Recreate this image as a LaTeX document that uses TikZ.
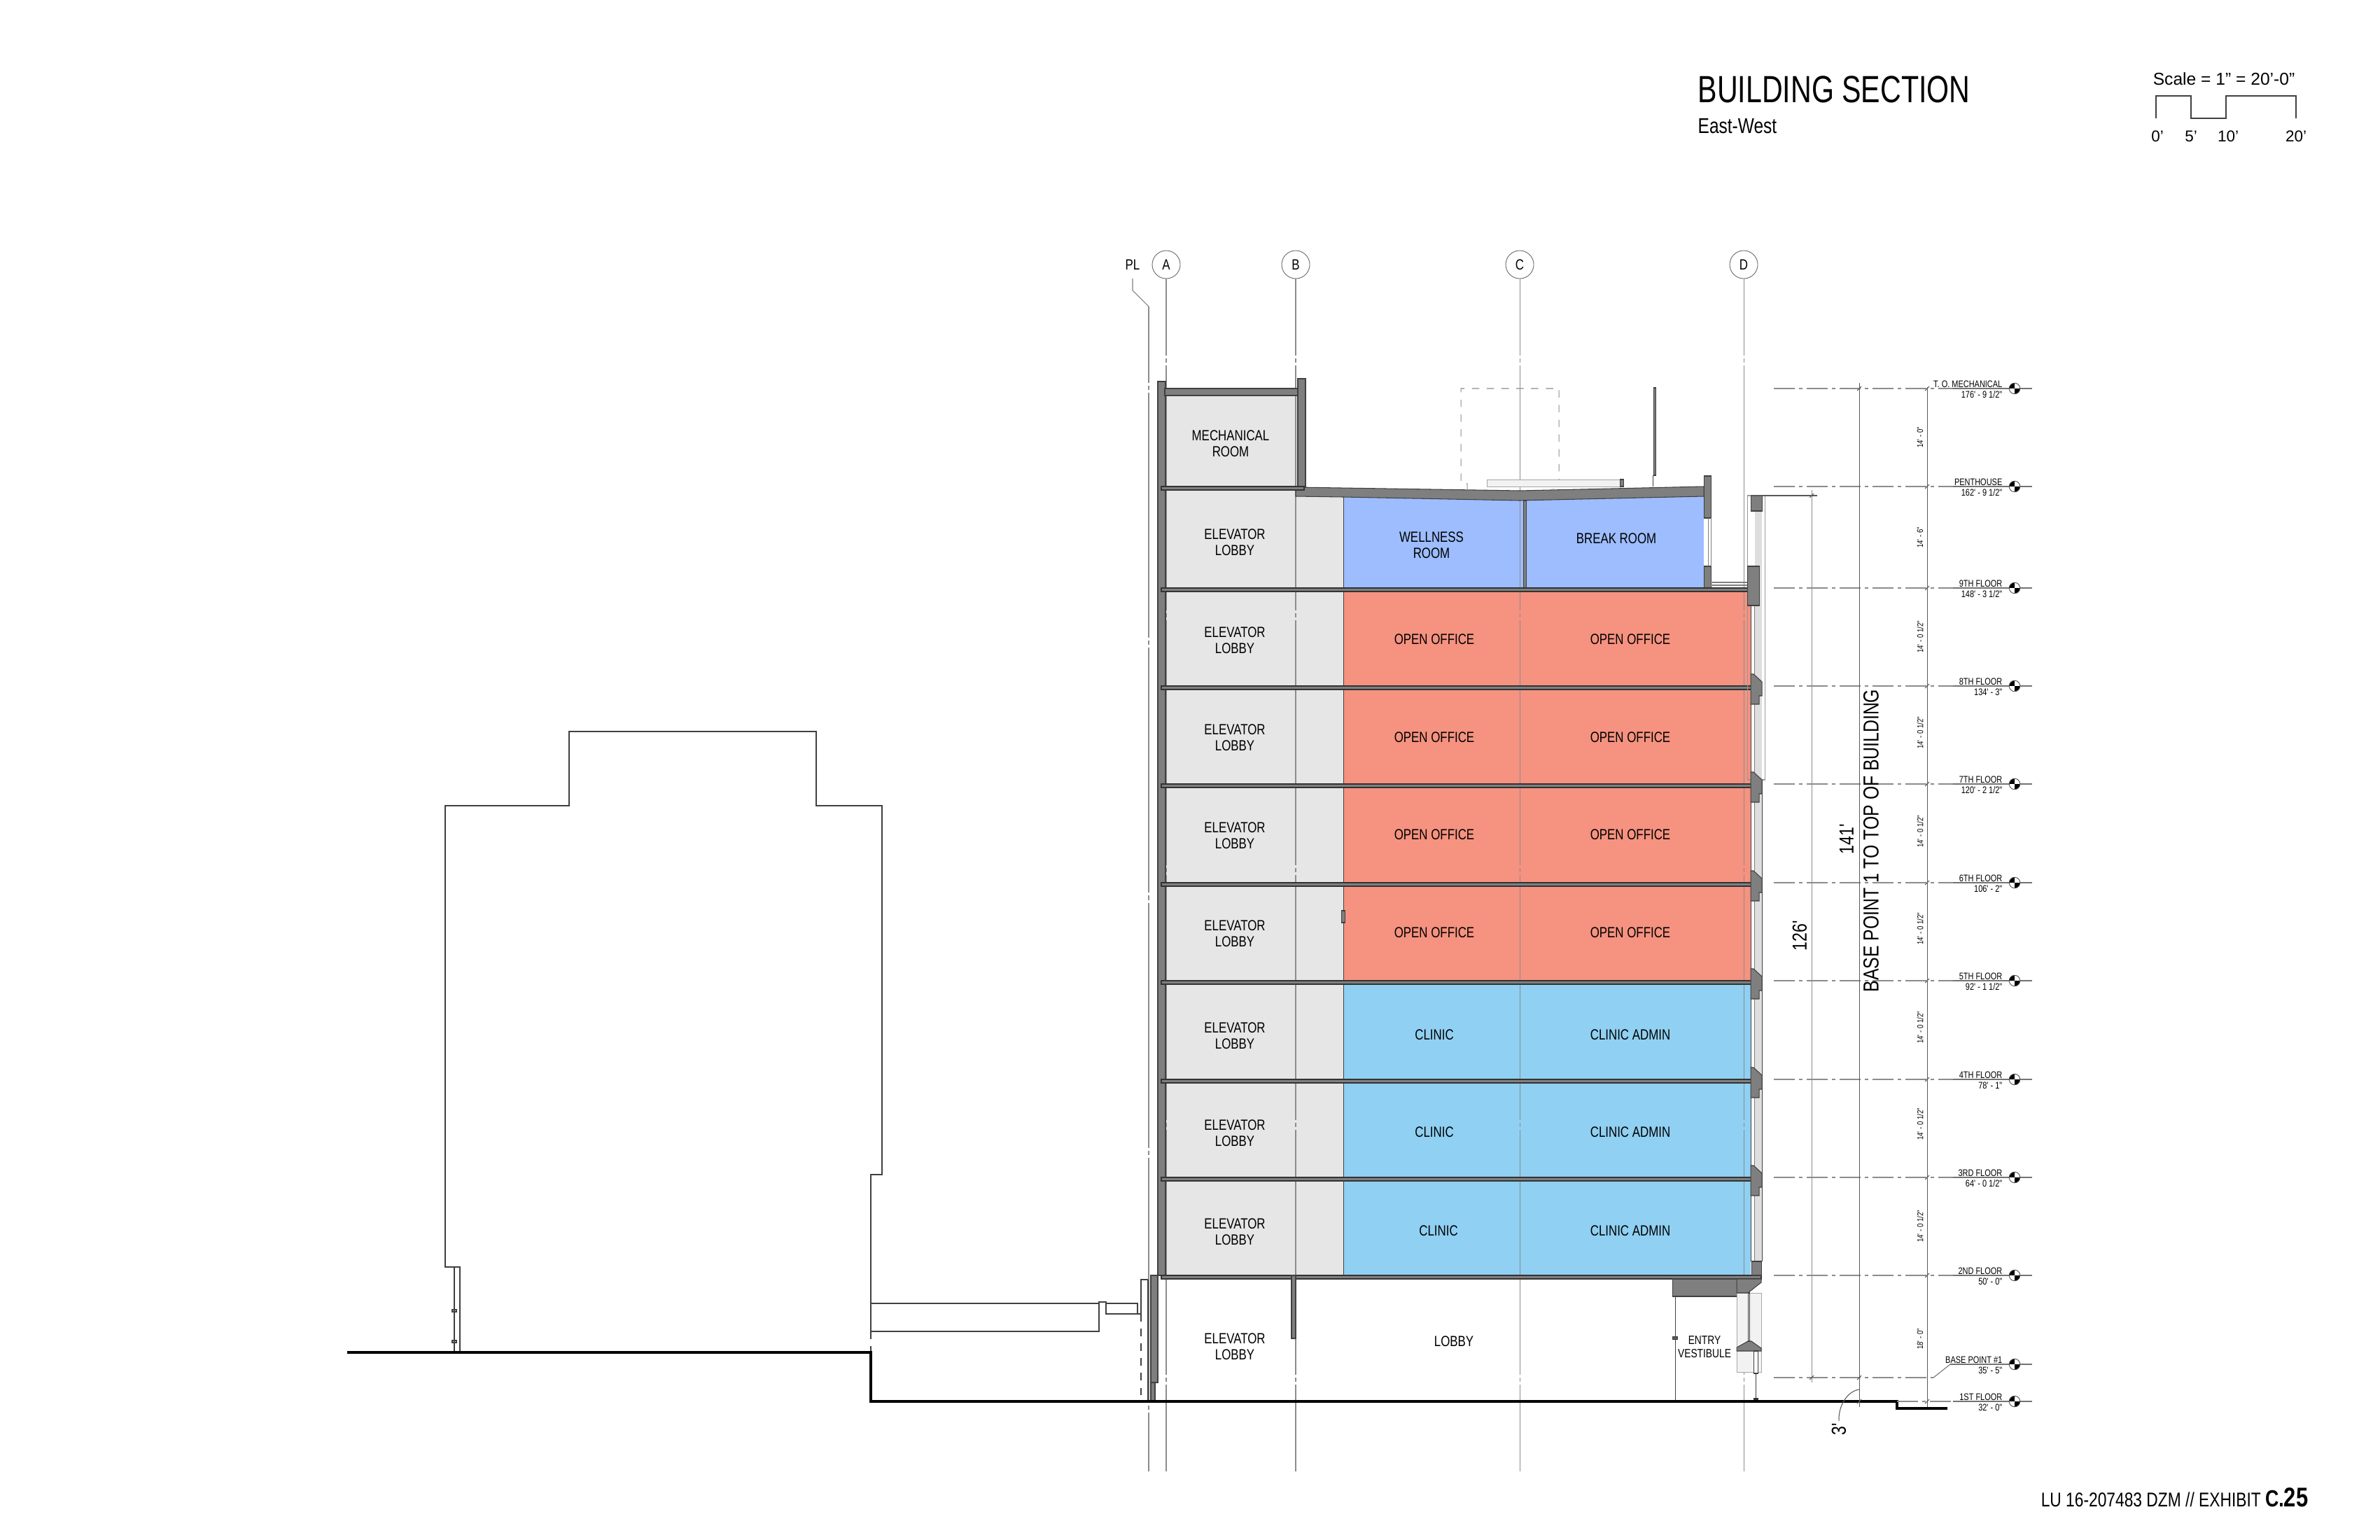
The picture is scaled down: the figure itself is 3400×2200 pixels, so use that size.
\documentclass[tikz,border=0pt]{standalone}
\usepackage{xcolor}
\usepackage{fontspec}
\usepackage{tikz}
\setmainfont{Liberation Sans}
\newfontfamily\narrowfont[FakeStretch=0.8]{Liberation Sans}
\newfontfamily\titlefont[FakeStretch=0.76]{Liberation Sans}
\definecolor{lobbygray}{HTML}{E6E6E6}
\definecolor{officered}{HTML}{F59280}
\definecolor{clinicblue}{HTML}{90D0F2}
\definecolor{wellblue}{HTML}{9DBDFE}
\definecolor{wallgray}{HTML}{7F7F7F}

\begin{document}
\begin{tikzpicture}[x=0.01cm,y=-0.01cm,
	room label/.style={font=\narrowfont\fontsize{6}{6.6}\selectfont, align=center, inner sep=0pt},
	level label/.style={font=\narrowfont\fontsize{3.9}{4.3}\selectfont, align=right, anchor=east, inner sep=0pt},
	dim label/.style={font=\narrowfont\fontsize{3.4}{3.8}\selectfont, rotate=90, inner sep=0pt},
	big dim/.style={font=\narrowfont\fontsize{8.2}{9}\selectfont, rotate=90, inner sep=0pt},
	grid node/.style={circle, draw=black!60, line width=0.25pt, fill=white, minimum size=0.4cm, inner sep=0pt, font=\narrowfont\fontsize{6}{7}\selectfont},
	grid line/.style={draw=black!45, line width=0.3pt, dash pattern=on 3.5cm off 0.04cm on 0.06cm off 0.04cm, dash phase=2.41cm},
	level dash/.style={draw=black!45, line width=0.3pt, dash pattern=on 0.3cm off 0.06cm on 0.05cm off 0.06cm},
	level line/.style={draw=black!55, line width=0.3pt},
	level head/.style={circle, draw=black!70, line width=0.25pt, fill=white, minimum size=0.155cm, inner sep=0pt,
		path picture={
			\fill[black] (path picture bounding box.center) rectangle (path picture bounding box.north west);
			\fill[black] (path picture bounding box.center) rectangle (path picture bounding box.south east);}},
	wall/.style={draw=black!75, line width=0.3pt, fill=wallgray},
	slab/.style={draw=black!80, line width=0.45pt, fill=wallgray},
	thin line/.style={draw=black!75, line width=0.3pt},
	dim line/.style={draw=black!65, line width=0.3pt},
	hatch/.style={fill=black!13},
	stone/.style={draw=black!35, line width=0.2pt, fill=black!5},
	dim tick/.pic={\draw[dim line] (-3,3) -- (3,-3);},
	slab edge/.pic={\draw[wall] (0,-17) -- (4,-17) -- (16,-6) -- (16,14) -- (12,14) -- (12,26) -- (0,26) -- cycle;}]
	\useasboundingbox (0,-2) rectangle (3400,2198);
	
	% Room fills
	\fill[lobbygray] (1665,563) rectangle (1854,693);
	\fill[lobbygray] (1665,698) rectangle (1919,1820);
	\fill[wellblue] (1919,700) rectangle (2434,838);
	\fill[officered] (1919,843) rectangle (2501,1399);
	\fill[clinicblue] (1919,1404) rectangle (2501,1820);
	\draw[thin line] (1919,707) -- (1919,1820);
	\draw[wall] (1916,1299) rectangle (1921,1316);
	
	% Grid
	\node[grid node] (A) at (1666,376) {A};
	\node[grid node] (B) at (1851,376) {B};
	\node[grid node] (C) at (2171,376) {C};
	\node[grid node] (D) at (2491,376) {D};
	\coordinate (Aend) at (1666,2100);
	\coordinate (Bend) at (1851,2100);
	\coordinate (Cend) at (2171,2100);
	\coordinate (Dend) at (2491,2100);
	\path (A) edge[grid line] (Aend)
	(B) edge[grid line] (Bend)
	(C) edge[grid line] (Cend)
	(D) edge[grid line] (Dend);
	\node[font=\narrowfont\fontsize{6}{7}\selectfont, inner sep=0pt] (PL) at (1618,376) {PL};
	\draw[thin line, draw=black!50] (1618,396) -- (1618,413) -- (1641,436);
	\draw[grid line] (1641,436) -- (1641,2100);
	
	% Walls and slabs
	\draw[wall] (1654,543) rectangle (1665,1820);
	\draw[wall] (1664,553) rectangle (1854,563);
	\draw[wall] (1854,539) rectangle (1865,696);
	\draw[wall] (1851,694) -- (2171,699) -- (2434,693) -- (2434,707) -- (2171,713) -- (1919,708) -- (1851,707) -- cycle;
	\draw[wall] (2176,713) rectangle (2180,838);
	\draw[wall] (2434,678) rectangle (2444,738);
	\draw[wall] (2434,807) rectangle (2444,838);
	\draw[thin line, draw=black!50] (2440,738) -- (2440,807);
	\draw[thin line, draw=black!50] (2444,738) -- (2444,807);
	\draw[thin line, draw=black!50] (2444,830) -- (2496,830);
	\draw[thin line, draw=black!50] (2444,834) -- (2496,834);
	\draw[slab] (1659,693) rectangle (1863,698);
	\draw[slab] (1659,838) rectangle (2506,843);
	\draw[slab] (1659,978) rectangle (2506,983);
	\draw[slab] (1659,1118) rectangle (2506,1123);
	\draw[slab] (1659,1259) rectangle (2506,1264);
	\draw[slab] (1659,1399) rectangle (2506,1404);
	\draw[slab] (1659,1540) rectangle (2506,1545);
	\draw[slab] (1659,1680) rectangle (2506,1685);
	\draw[slab] (1659,1820) rectangle (2516,1825);
	
	% Facade
	\draw[dim line, draw=black!40] (2496,706) rectangle (2521,1112);
	\fill[hatch] (2507,728) rectangle (2517,1800);
	\fill[white] (2502,863) rectangle (2507,1800);
	\draw[thin line] (2501,863) -- (2501,1800);
	\draw[thin line, draw=black!50] (2506,863) -- (2506,1800);
	\draw[thin line] (2517,1112) -- (2517,1800);
	\draw[wall] (2501,706) rectangle (2517,728);
	\draw[wall] (2496,807) rectangle (2513,863);
	\pic at (2501,978) {slab edge};
	\pic at (2501,1118) {slab edge};
	\pic at (2501,1259) {slab edge};
	\pic at (2501,1399) {slab edge};
	\pic at (2501,1540) {slab edge};
	\pic at (2501,1680) {slab edge};
	\draw[wall] (2502,1800) rectangle (2516,1820);
	
	% Ground floor
	\draw[wall] (2389,1825) rectangle (2481,1850);
	\draw[stone] (2481,1845) rectangle (2516,1958);
	\draw[wall] (2481,1825) -- (2516,1825) -- (2516,1830) -- (2497,1845) -- (2481,1845) -- cycle;
	\draw[wall] (2481,1923) -- (2497,1914) -- (2502,1914) -- (2516,1924) -- (2516,1928) -- (2481,1928) -- cycle;
	\draw[thin line] (2497,1845) rectangle (2499,1914);
	\draw[thin line, fill=white] (2505,1928) rectangle (2511,1960);
	\draw[thin line] (2508,1960) -- (2508,1995);
	\fill[black!80] (2505,1995) rectangle (2512,1999);
	\draw[thin line] (2393,1850) -- (2393,2000);
	\draw[wall] (2389,1908) rectangle (2396,1911);
	\draw[wall] (1644,1820) rectangle (1654,1973);
	\draw[wall] (1644,1973) rectangle (1650,2000);
	\draw[wall] (1845,1820) rectangle (1851,1910);
	
	% Rooftop
	\draw[dim line, dashed, draw=black!45] (2096,698) -- (2096,689) -- (2087,688) -- (2087,553) -- (2227,553) -- (2227,688) -- (2219,689) -- (2219,698);
	\draw[stone] (2124,683) rectangle (2319,693);
	\draw[wall] (2314,683) rectangle (2319,693);
	\draw[wall] (2362,552) rectangle (2365,677);
	\draw[thin line] (2361,677) -- (2361,693);
	
	% Neighbour
	\draw[thin line] (657,1930) -- (657,1808) -- (636,1808) -- (636,1149) -- (813,1149) -- (813,1043) -- (1166,1043) -- (1166,1149) -- (1260,1149) -- (1260,1676) -- (1244,1676) -- (1244,1900);
	\draw[thin line, dashed] (1244,1900) -- (1244,1930);
	\draw[thin line] (649,1808) -- (649,1930);
	\draw[thin line] (646,1869) rectangle (652,1872);
	\draw[thin line] (646,1913) rectangle (652,1916);
	\draw[thin line] (1244,1860) -- (1570,1860);
	\draw[thin line] (1244,1900) -- (1570,1900) -- (1570,1858) -- (1580,1858) -- (1580,1875) -- (1630,1875);
	\draw[thin line] (1580,1860) -- (1625,1860) -- (1625,1875);
	\draw[thin line] (1640,1826) -- (1630,1826) -- (1630,1875);
	\draw[thin line, dashed] (1630,1875) -- (1630,2000);
	\draw[thin line] (1640,1826) -- (1640,2000);
	
	% Grade
	\draw[line width=0.9pt] (496,1930) -- (1244,1930) -- (1244,2000) -- (2710,2000) -- (2710,2010) -- (2782,2010);
	
	% Room labels
	\node[room label] (mech) at (1758,632) {MECHANICAL\\ROOM};
	\node[room label] (lobby9) at (1764,773) {ELEVATOR\\LOBBY};
	\node[room label] (lobby8) at (1764,913) {ELEVATOR\\LOBBY};
	\node[room label] (lobby7) at (1764,1052) {ELEVATOR\\LOBBY};
	\node[room label] (lobby6) at (1764,1192) {ELEVATOR\\LOBBY};
	\node[room label] (lobby5) at (1764,1332) {ELEVATOR\\LOBBY};
	\node[room label] (lobby4) at (1764,1478) {ELEVATOR\\LOBBY};
	\node[room label] (lobby3) at (1764,1617) {ELEVATOR\\LOBBY};
	\node[room label] (lobby2) at (1764,1758) {ELEVATOR\\LOBBY};
	\node[room label] (lobby1) at (1764,1922) {ELEVATOR\\LOBBY};
	\node[room label] (well) at (2045,777) {WELLNESS\\ROOM};
	\node[room label] (break) at (2309,767) {BREAK ROOM};
	\node[room label] (off8a) at (2049,911) {OPEN OFFICE};
	\node[room label] (off8b) at (2329,911) {OPEN OFFICE};
	\node[room label] (off7a) at (2049,1051) {OPEN OFFICE};
	\node[room label] (off7b) at (2329,1051) {OPEN OFFICE};
	\node[room label] (off6a) at (2049,1190) {OPEN OFFICE};
	\node[room label] (off6b) at (2329,1190) {OPEN OFFICE};
	\node[room label] (off5a) at (2049,1330) {OPEN OFFICE};
	\node[room label] (off5b) at (2329,1330) {OPEN OFFICE};
	\node[room label] (cl4a) at (2049,1476) {CLINIC};
	\node[room label] (cl4b) at (2329,1476) {CLINIC ADMIN};
	\node[room label] (cl3a) at (2049,1615) {CLINIC};
	\node[room label] (cl3b) at (2329,1615) {CLINIC ADMIN};
	\node[room label] (cl2a) at (2055,1756) {CLINIC};
	\node[room label] (cl2b) at (2329,1756) {CLINIC ADMIN};
	\node[room label] (lobby) at (2077,1914) {LOBBY};
	\node[room label, font=\narrowfont\fontsize{4.9}{5.6}\selectfont] (entry) at (2435,1922) {ENTRY\\VESTIBULE};
	
	% Levels
	\coordinate (lv1w) at (2534,553); \coordinate (lv1m) at (2790,553); \coordinate (lv1e) at (2903,553);
	\coordinate (lv2w) at (2534,693); \coordinate (lv2m) at (2790,693); \coordinate (lv2e) at (2903,693);
	\coordinate (lv3w) at (2534,838); \coordinate (lv3m) at (2790,838); \coordinate (lv3e) at (2903,838);
	\coordinate (lv4w) at (2534,978); \coordinate (lv4m) at (2790,978); \coordinate (lv4e) at (2903,978);
	\coordinate (lv5w) at (2534,1118); \coordinate (lv5m) at (2790,1118); \coordinate (lv5e) at (2903,1118);
	\coordinate (lv6w) at (2534,1259); \coordinate (lv6m) at (2790,1259); \coordinate (lv6e) at (2903,1259);
	\coordinate (lv7w) at (2534,1399); \coordinate (lv7m) at (2790,1399); \coordinate (lv7e) at (2903,1399);
	\coordinate (lv8w) at (2534,1540); \coordinate (lv8m) at (2790,1540); \coordinate (lv8e) at (2903,1540);
	\coordinate (lv9w) at (2534,1680); \coordinate (lv9m) at (2790,1680); \coordinate (lv9e) at (2903,1680);
	\coordinate (lv10w) at (2534,1820); \coordinate (lv10m) at (2790,1820); \coordinate (lv10e) at (2903,1820);
	\coordinate (lv11w) at (2534,1966); \coordinate (lv11k) at (2762,1966); \coordinate (lv11m) at (2786,1947); \coordinate (lv11e) at (2903,1947);
	\coordinate (lv12w) at (2710,2000); \coordinate (lv12m) at (2790,2000); \coordinate (lv12e) at (2903,2000);
	\node[level head] (lv1) at (2878,553) {};
	\node[level head] (lv2) at (2878,693) {};
	\node[level head] (lv3) at (2878,838) {};
	\node[level head] (lv4) at (2878,978) {};
	\node[level head] (lv5) at (2878,1118) {};
	\node[level head] (lv6) at (2878,1259) {};
	\node[level head] (lv7) at (2878,1399) {};
	\node[level head] (lv8) at (2878,1540) {};
	\node[level head] (lv9) at (2878,1680) {};
	\node[level head] (lv10) at (2878,1820) {};
	\node[level head] (lv11) at (2878,1947) {};
	\node[level head] (lv12) at (2878,2000) {};
	\path (lv1w) edge[level dash] (lv1m) (lv1m) edge[level line] (lv1) (lv1) edge[level line] (lv1e);
	\path (lv2w) edge[level dash] (lv2m) (lv2m) edge[level line] (lv2) (lv2) edge[level line] (lv2e);
	\path (lv3w) edge[level dash] (lv3m) (lv3m) edge[level line] (lv3) (lv3) edge[level line] (lv3e);
	\path (lv4w) edge[level dash] (lv4m) (lv4m) edge[level line] (lv4) (lv4) edge[level line] (lv4e);
	\path (lv5w) edge[level dash] (lv5m) (lv5m) edge[level line] (lv5) (lv5) edge[level line] (lv5e);
	\path (lv6w) edge[level dash] (lv6m) (lv6m) edge[level line] (lv6) (lv6) edge[level line] (lv6e);
	\path (lv7w) edge[level dash] (lv7m) (lv7m) edge[level line] (lv7) (lv7) edge[level line] (lv7e);
	\path (lv8w) edge[level dash] (lv8m) (lv8m) edge[level line] (lv8) (lv8) edge[level line] (lv8e);
	\path (lv9w) edge[level dash] (lv9m) (lv9m) edge[level line] (lv9) (lv9) edge[level line] (lv9e);
	\path (lv10w) edge[level dash] (lv10m) (lv10m) edge[level line] (lv10) (lv10) edge[level line] (lv10e);
	\path (lv11w) edge[level dash] (lv11k) (lv11k) edge[level line] (lv11m) (lv11m) edge[level line] (lv11) (lv11) edge[level line] (lv11e);
	\path (lv12w) edge[level dash] (lv12m) (lv12m) edge[level line] (lv12) (lv12) edge[level line] (lv12e);
	\node[level label] (t1) at (2861,554) {T. O. MECHANICAL\\176' - 9 1/2"};
	\node[level label] (t2) at (2861,694) {PENTHOUSE\\162' - 9 1/2"};
	\node[level label] (t3) at (2861,839) {9TH FLOOR\\148' - 3 1/2"};
	\node[level label] (t4) at (2861,979) {8TH FLOOR\\134' - 3"};
	\node[level label] (t5) at (2861,1119) {7TH FLOOR\\120' - 2 1/2"};
	\node[level label] (t6) at (2861,1260) {6TH FLOOR\\106' - 2"};
	\node[level label] (t7) at (2861,1400) {5TH FLOOR\\92' - 1 1/2"};
	\node[level label] (t8) at (2861,1541) {4TH FLOOR\\78' - 1"};
	\node[level label] (t9) at (2861,1681) {3RD FLOOR\\64' - 0 1/2"};
	\node[level label] (t10) at (2861,1821) {2ND FLOOR\\50' - 0"};
	\node[level label] (t11) at (2861,1948) {BASE POINT \#1\\35' - 5"};
	\node[level label] (t12) at (2861,2001) {1ST FLOOR\\32' - 0"};
	
	% Dimensions
	\coordinate (d1t) at (2753,551); \coordinate (d1b) at (2753,2008);
	\coordinate (d2t) at (2656,545); \coordinate (d2b) at (2656,2008);
	\coordinate (d3t) at (2588,698); \coordinate (d3b) at (2588,1973);
	\coordinate (d3w) at (2501,706); \coordinate (d3e) at (2596,706);
	\coordinate (d4t) at (2656,1983); \coordinate (d4l) at (2627,2028);
	\path (d1t) edge[dim line] (d1b) (d2t) edge[dim line] (d2b) (d3t) edge[dim line, draw=black!45] (d3b) (d3w) edge[dim line] (d3e);
	\draw[dim line] (d4t) .. controls (2640,1985) and (2626,2005) .. (d4l);
	\pic at (2753,553) {dim tick};
	\pic at (2753,693) {dim tick};
	\pic at (2753,838) {dim tick};
	\pic at (2753,978) {dim tick};
	\pic at (2753,1118) {dim tick};
	\pic at (2753,1259) {dim tick};
	\pic at (2753,1399) {dim tick};
	\pic at (2753,1540) {dim tick};
	\pic at (2753,1680) {dim tick};
	\pic at (2753,1820) {dim tick};
	\pic at (2753,2000) {dim tick};
	\pic at (2656,553) {dim tick};
	\pic at (2656,1966) {dim tick};
	\pic at (2656,2000) {dim tick};
	\pic at (2588,706) {dim tick};
	\pic at (2588,1966) {dim tick};
	\node[dim label] (h1) at (2743,623) {14' - 0"};
	\node[dim label] (h2) at (2743,766) {14' - 6"};
	\node[dim label] (h3) at (2743,908) {14' - 0 1/2"};
	\node[dim label] (h4) at (2743,1045) {14' - 0 1/2"};
	\node[dim label] (h5) at (2743,1186) {14' - 0 1/2"};
	\node[dim label] (h6) at (2743,1325) {14' - 0 1/2"};
	\node[dim label] (h7) at (2743,1466) {14' - 0 1/2"};
	\node[dim label] (h8) at (2743,1604) {14' - 0 1/2"};
	\node[dim label] (h9) at (2743,1750) {14' - 0 1/2"};
	\node[dim label] (h10) at (2743,1911) {18' - 0"};
	\node[big dim] (d126) at (2571,1335) {126'};
	\node[big dim] (d141) at (2638,1197) {141'};
	\node[big dim, font=\narrowfont\fontsize{8.8}{10}\selectfont] (base) at (2673,1199) {BASE POINT 1 TO TOP OF BUILDING};
	\node[big dim] (d3) at (2627,2040) {3'};
	
	% Title and scale
	\node[font=\titlefont\fontsize{15.4}{17}\selectfont, anchor=base west, inner sep=0pt] (title) at (2425,145) {BUILDING SECTION};
	\node[font=\narrowfont\fontsize{8.7}{10}\selectfont, anchor=base west, inner sep=0pt] (sub) at (2425,189) {East-West};
	\node[font=\fontsize{7}{8}\selectfont, inner sep=0pt] (scale) at (3177,111) {Scale = 1” = 20’-0”};
	\draw[line width=0.35pt, draw=black!75] (3080,167) -- (3080,135) -- (3130,135) -- (3130,167) -- (3180,167) -- (3180,135) -- (3280,135) -- (3280,167);
	\node[font=\fontsize{6.4}{8}\selectfont, inner sep=0pt] (s0) at (3082,193) {0’};
	\node[font=\fontsize{6.4}{8}\selectfont, inner sep=0pt] (s5) at (3130,193) {5’};
	\node[font=\fontsize{6.4}{8}\selectfont, inner sep=0pt] (s10) at (3183,193) {10’};
	\node[font=\fontsize{6.4}{8}\selectfont, inner sep=0pt] (s20) at (3280,193) {20’};
	\node[font=\narrowfont\fontsize{8.1}{9}\selectfont, anchor=base east, inner sep=0pt] (foot) at (3298,2150) {LU 16-207483 DZM // EXHIBIT {\fontsize{9.5}{10}\selectfont\bfseries C.}{\fontsize{11}{12}\selectfont\bfseries 25}};
\end{tikzpicture}
\end{document}
